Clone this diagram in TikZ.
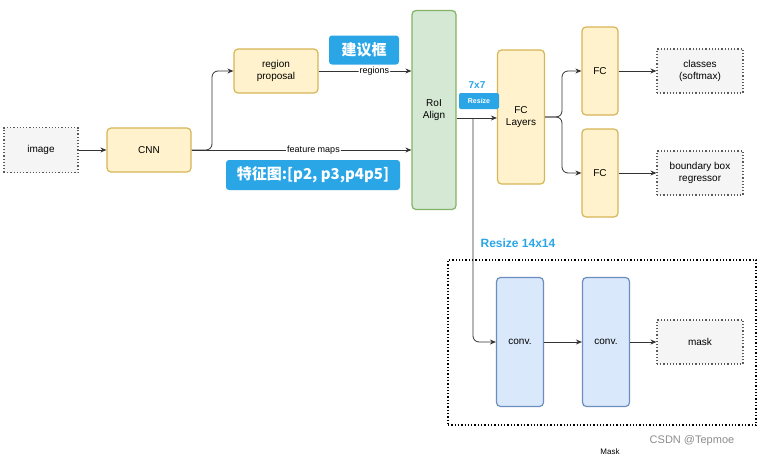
\documentclass[tikz,border=0pt]{standalone}
\usepackage{fontspec}
\setmainfont{Liberation Sans}
\newfontfamily\cjk{Noto Sans CJK SC}
\usetikzlibrary{arrows.meta}
\definecolor{yf}{HTML}{FFF2CC}\definecolor{ys}{HTML}{D6B656}
\definecolor{gf}{HTML}{D5E8D4}\definecolor{gs}{HTML}{82B366}
\definecolor{bf}{HTML}{DAE8FC}\definecolor{bs}{HTML}{6C8EBF}
\definecolor{lab}{HTML}{2AA6E6}
\begin{document}
\begin{tikzpicture}[x=1pt,y=-1pt,
 box/.style={draw=#1s,fill=#1f,rounded corners=4pt,line width=1.2pt,align=center,inner sep=0pt,font=\fontsize{10}{12}\selectfont},
 io/.style={draw=black!65,fill=black!4,dotted,line width=1.2pt,minimum width=86pt,minimum height=44pt,align=center,inner sep=0pt,font=\fontsize{10}{12}\selectfont},
 tag/.style={fill=lab,text=white,rounded corners=3pt,inner sep=0pt,font=\cjk\bfseries\fontsize{15}{17}\selectfont},
 ar/.style={draw=black!80,-{Stealth[length=6pt,width=5pt]},line width=0.8pt,rounded corners=6pt},
 lbl/.style={fill=white,inner sep=1pt,font=\fontsize{9}{11}\selectfont}]
\useasboundingbox (0,0) rectangle (764,467);
\node[io,minimum width=74pt,minimum height=45pt] (img) at (41,150) {image};
\node[box=y,minimum width=84pt,minimum height=44pt] (cnn) at (149,150) {CNN};
\node[box=y,minimum width=84pt,minimum height=44pt] (rp) at (276,71) {region\\proposal};
\node[box=g,minimum width=44pt,minimum height=199pt] (roi) at (434,110) {RoI\\Align};
\node[box=y,minimum width=47pt,minimum height=134pt] (fcl) at (521,117) {FC\\Layers};
\node[box=y,minimum width=36pt,minimum height=88pt] (fc1) at (600,71) {FC};
\node[box=y,minimum width=36pt,minimum height=88pt] (fc2) at (600,173) {FC};
\node[io] (cls) at (700,71) {classes\\(softmax)};
\node[io] (bb) at (700,173) {boundary box\\regressor};
\node[box=b,minimum width=47pt,minimum height=129pt] (c1) at (520,342) {conv.};
\node[box=b,minimum width=47pt,minimum height=129pt] (c2) at (606,342) {conv.};
\node[io] (mask) at (700,342) {mask};
\node[draw,dotted,line width=1.3pt,minimum width=308pt,minimum height=165pt,inner sep=0pt] (mb) at (602,342.5) {};
\node[tag,minimum width=70pt,minimum height=29pt] (t1) at (364,50) {建议框};
\node[tag,minimum width=174pt,minimum height=30pt] (t2) at (313,175) {特征图:[p2, p3,p4p5]};
\node[fill=lab,text=white,rounded corners=2pt,minimum width=40pt,minimum height=16pt,inner sep=0pt,font=\bfseries\fontsize{7}{8}\selectfont] (rs) at (479,101) {Resize};
\node[text=lab,font=\bfseries\fontsize{10}{12}\selectfont] (t77) at (477,85) {7x7};
\node[text=lab,font=\bfseries\fontsize{12}{14}\selectfont] (t14) at (518,243) {Resize 14x14};
\node[font=\fontsize{8}{9}\selectfont] (mk) at (610,452) {Mask};
\node[text=black!45,font=\fontsize{11}{13}\selectfont] (csdn) at (692,441) {CSDN @Tepmoe};
\coordinate (br) at (473,118);
\draw[ar] (img) -- (cnn);
\draw[ar] (cnn.east) -- (212,150) -- (212,71) -- (rp.west);
\draw[ar] (cnn.east) -- (roi.west |- cnn.east) node[lbl,midway,pos=0.5,xshift=12pt,yshift=0pt]{feature maps};
\draw[ar] (rp.east) -- (roi.west |- rp.east) node[lbl,pos=0.6]{regions};
\draw[ar] (roi.east |- br) -- (fcl.west |- br);
\draw[ar] (br) -- (473,342) -- (c1.west);
\draw[ar] (fcl.east) -- (562,117) -- (562,71) -- (fc1.west);
\draw[ar] (fcl.east) -- (562,117) -- (562,173) -- (fc2.west);
\draw[ar] (fc1) -- (cls);
\draw[ar] (fc2) -- (bb);
\draw[ar] (c1) -- (c2);
\draw[ar] (c2) -- (mask);
\end{tikzpicture}
\end{document}
